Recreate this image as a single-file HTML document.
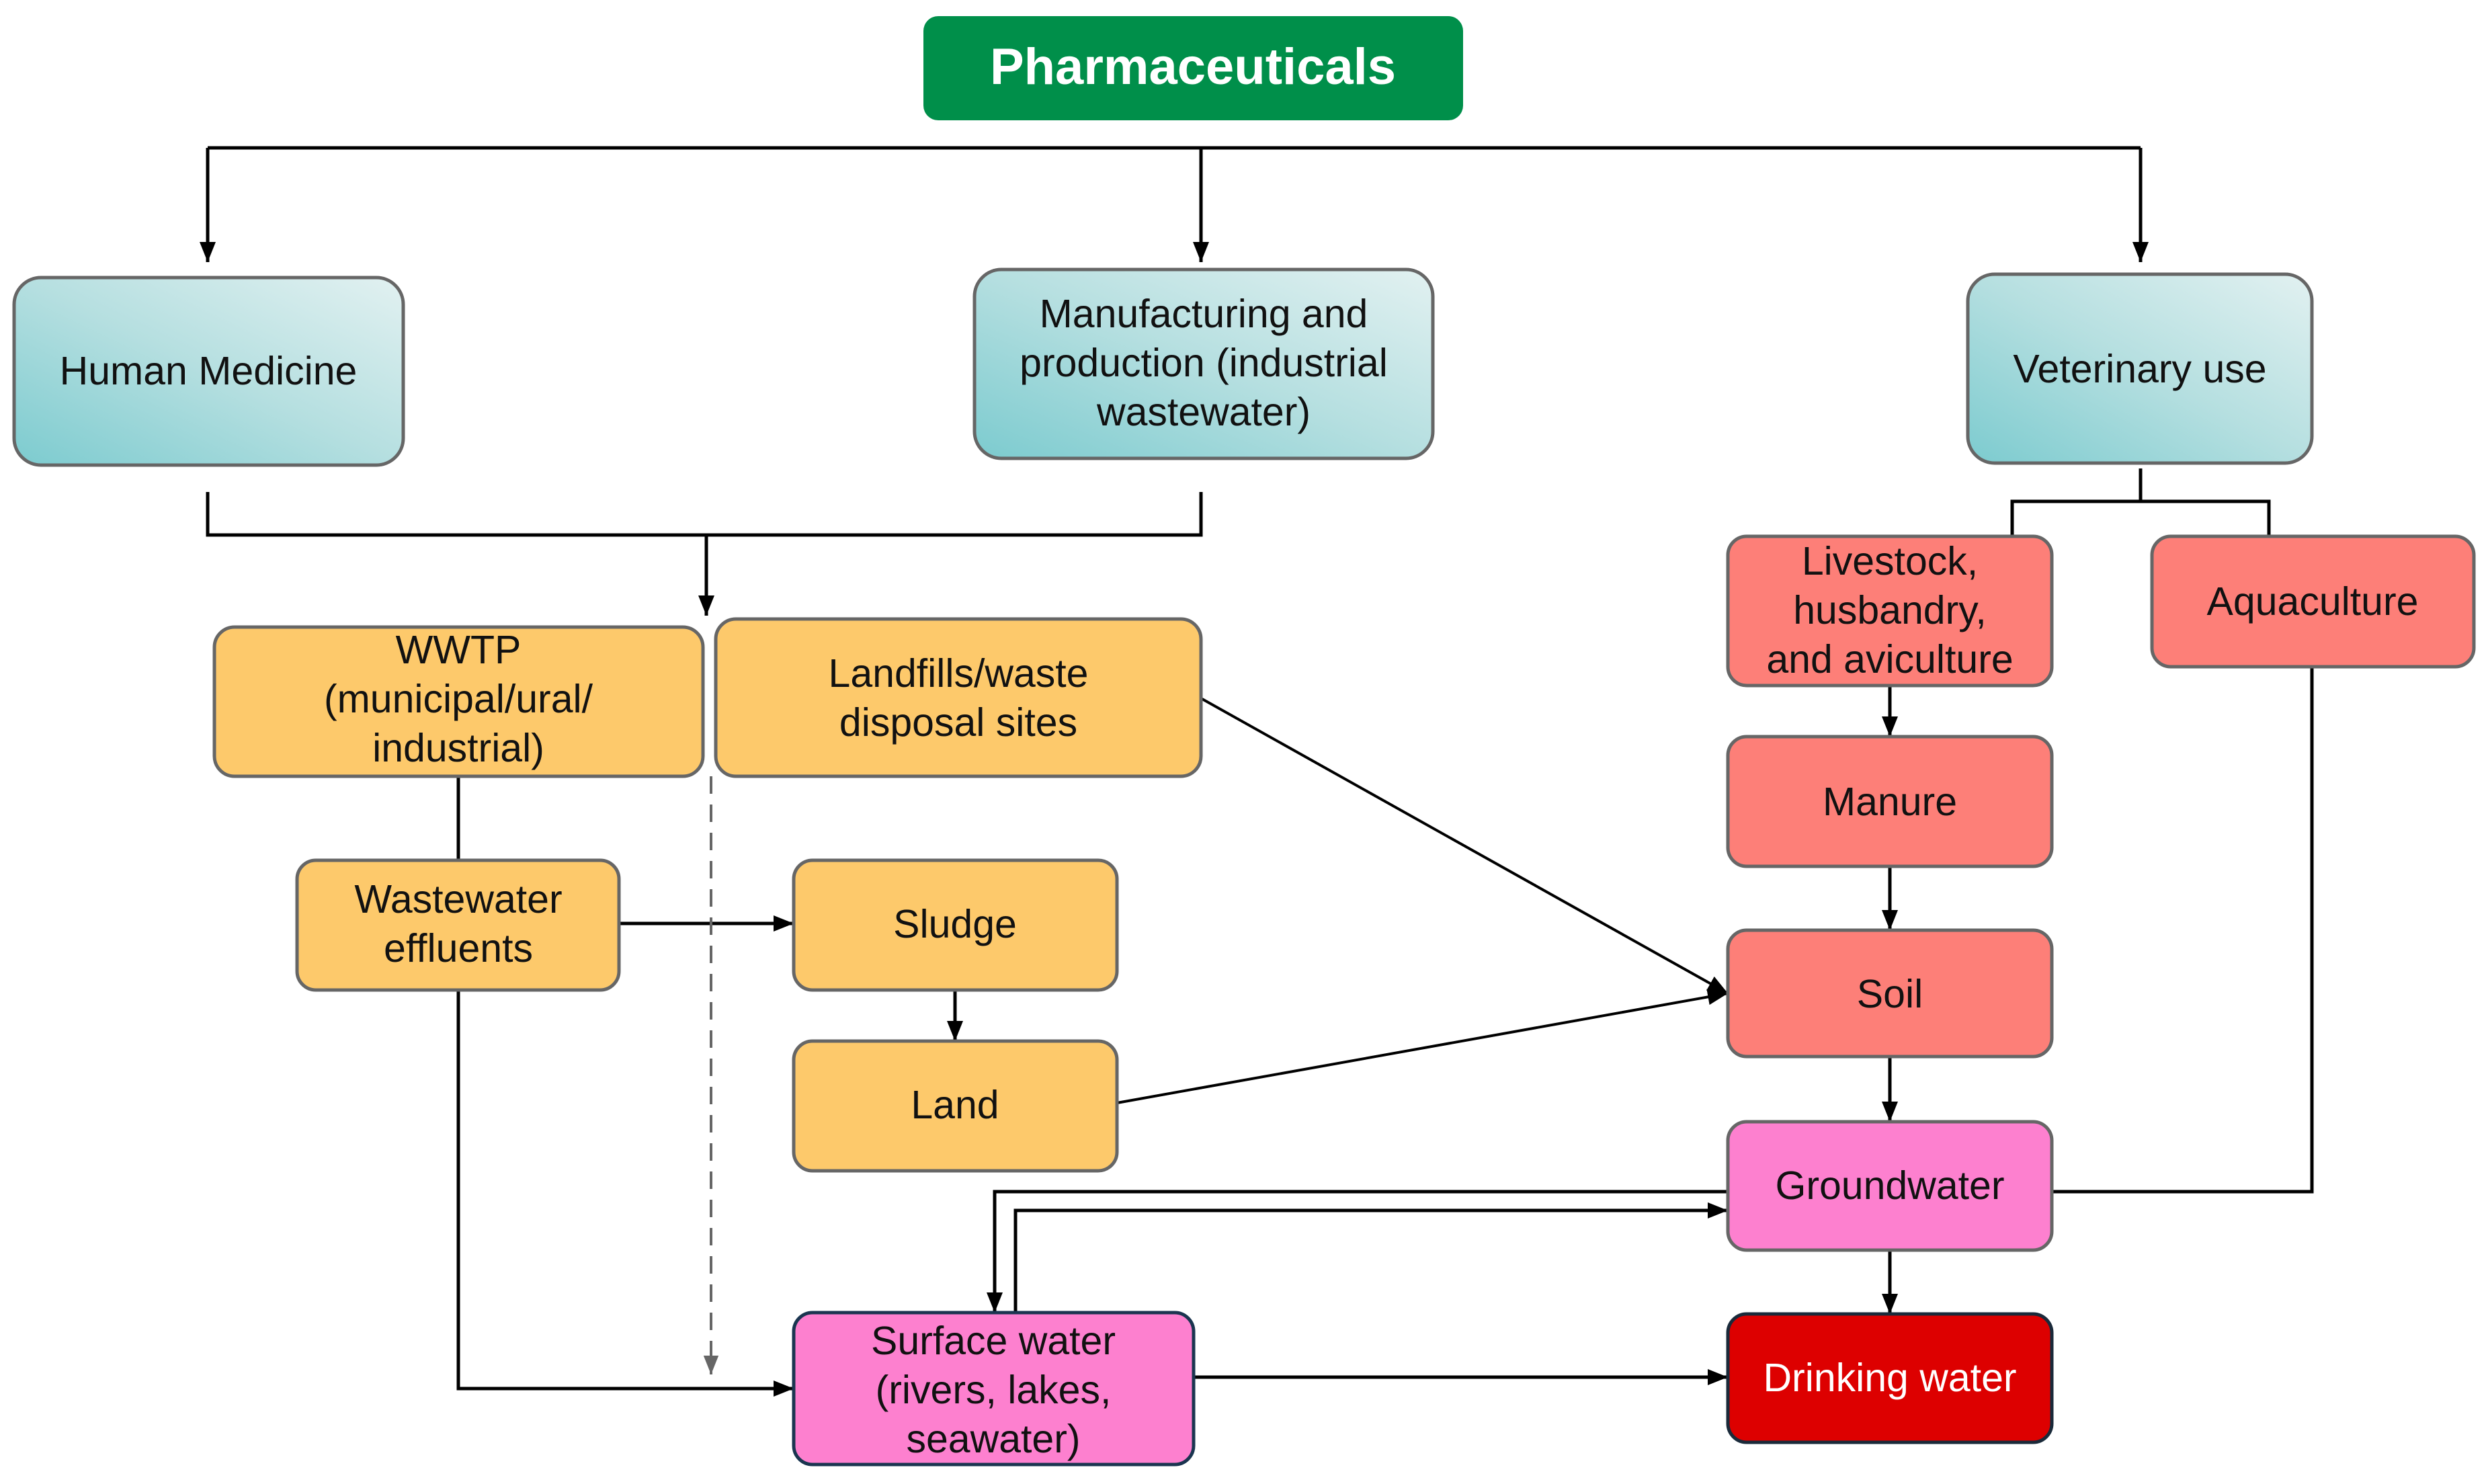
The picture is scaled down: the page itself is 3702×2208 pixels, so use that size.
<!DOCTYPE html>
<html><head><meta charset="utf-8"><style>
html,body{margin:0;padding:0;background:#fff;}
svg{display:block;}
text{font-family:"Liberation Sans",sans-serif;font-size:59px;fill:#111;text-anchor:middle;}
</style></head><body>
<svg width="3702" height="2208" viewBox="0 0 3702 2208" xmlns="http://www.w3.org/2000/svg">
<defs>
<linearGradient id="tg" x1="0" y1="1" x2="1" y2="0">
<stop offset="0" stop-color="#7ccbcf"/><stop offset="0.5" stop-color="#b5dfe0"/><stop offset="1" stop-color="#e2f1f1"/>
</linearGradient>
<marker id="a" viewBox="0 0 10 10" refX="10" refY="5" markerWidth="30" markerHeight="30" markerUnits="userSpaceOnUse" orient="auto"><path d="M0,1 L10,5 L0,9 z" fill="#000"/></marker>
<marker id="ag" viewBox="0 0 10 10" refX="10" refY="5" markerWidth="28" markerHeight="28" markerUnits="userSpaceOnUse" orient="auto"><path d="M0,1 L10,5 L0,9 z" fill="#666"/></marker>
</defs>

<g stroke="#000" stroke-width="5" fill="none">
<path d="M309,220 H3185"/>
<path d="M309,220 V390" marker-end="url(#a)"/>
<path d="M1787,220 V390" marker-end="url(#a)"/>
<path d="M3185,220 V390" marker-end="url(#a)"/>
<path d="M309,732 V796 H1787 V732"/>
<path d="M1051,796 V916" marker-end="url(#a)"/>
<path d="M3185,697 V746 M2994,798 V746 H3376 V798"/>
<path d="M682,1155 V1280"/>
<path d="M921,1374 H1181" marker-end="url(#a)"/>
<path d="M1421,1473 V1549" marker-end="url(#a)"/>
<path d="M682,1473 V2066 H1181" marker-end="url(#a)"/>
<path d="M1787,1039 L2571,1478" marker-end="url(#a)" stroke-width="4"/>
<path d="M1662,1641 L2571,1478" marker-end="url(#a)" stroke-width="4"/>
<path d="M2812,1020 V1096" marker-end="url(#a)"/>
<path d="M2812,1289 V1384" marker-end="url(#a)"/>
<path d="M2812,1572 V1669" marker-end="url(#a)"/>
<path d="M2812,1860 V1955" marker-end="url(#a)"/>
<path d="M3440,992 V1773 H3053"/>
<path d="M2571,1773 H1480 V1953" marker-end="url(#a)"/>
<path d="M1511,1953 V1801 H2571" marker-end="url(#a)"/>
<path d="M1776,2049 H2571" marker-end="url(#a)"/>
</g>
<path d="M1058,1155 V2045" stroke="#666" stroke-width="4" stroke-dasharray="26,16" fill="none" marker-end="url(#ag)"/>

<rect x="1374" y="24" width="803" height="155" rx="22" fill="#008f4a"/>
<text x="1775" y="125" style="font-size:76px;font-weight:bold;fill:#fff">Pharmaceuticals</text>

<g stroke="#666" stroke-width="5">
<rect x="21" y="413" width="579" height="279" rx="40" fill="url(#tg)"/>
<rect x="1450" y="401" width="682" height="281" rx="40" fill="url(#tg)"/>
<rect x="2928" y="408" width="512" height="281" rx="40" fill="url(#tg)"/>
<rect x="319" y="933" width="727" height="222" rx="30" fill="#fdc96b"/>
<rect x="1065" y="921" width="722" height="234" rx="30" fill="#fdc96b"/>
<rect x="442" y="1280" width="479" height="193" rx="28" fill="#fdc96b"/>
<rect x="1181" y="1280" width="481" height="193" rx="28" fill="#fdc96b"/>
<rect x="1181" y="1549" width="481" height="193" rx="28" fill="#fdc96b"/>
<rect x="2571" y="798" width="482" height="222" rx="28" fill="#fd7f78"/>
<rect x="3202" y="798" width="479" height="194" rx="28" fill="#fd7f78"/>
<rect x="2571" y="1096" width="482" height="193" rx="28" fill="#fd7f78"/>
<rect x="2571" y="1384" width="482" height="188" rx="28" fill="#fd7f78"/>
<rect x="2571" y="1669" width="482" height="191" rx="28" fill="#fd80cf"/>
<rect x="1181" y="1953" width="595" height="226" rx="28" fill="#fd80cf" stroke="#1a3550"/>
<rect x="2571" y="1955" width="482" height="191" rx="28" fill="#dd0000" stroke="#1a2a3a"/>
</g>

<text x="310" y="572">Human Medicine</text>
<text x="1791" y="487">Manufacturing and</text>
<text x="1791" y="560">production (industrial</text>
<text x="1791" y="633">wastewater)</text>
<text x="3184" y="569">Veterinary use</text>
<text x="682" y="987">WWTP</text>
<text x="682" y="1060">(municipal/ural/</text>
<text x="682" y="1133">industrial)</text>
<text x="1426" y="1022">Landfills/waste</text>
<text x="1426" y="1095">disposal sites</text>
<text x="682" y="1358">Wastewater</text>
<text x="682" y="1431">effluents</text>
<text x="1421" y="1395">Sludge</text>
<text x="1421" y="1664">Land</text>
<text x="2812" y="855">Livestock,</text>
<text x="2812" y="928">husbandry,</text>
<text x="2812" y="1001">and aviculture</text>
<text x="3441" y="915">Aquaculture</text>
<text x="2812" y="1213">Manure</text>
<text x="2812" y="1499">Soil</text>
<text x="2812" y="1784">Groundwater</text>
<text x="1478" y="2015">Surface water</text>
<text x="1478" y="2088">(rivers, lakes,</text>
<text x="1478" y="2161">seawater)</text>
<text x="2812" y="2070" style="fill:#fff">Drinking water</text>
</svg>
</body></html>
